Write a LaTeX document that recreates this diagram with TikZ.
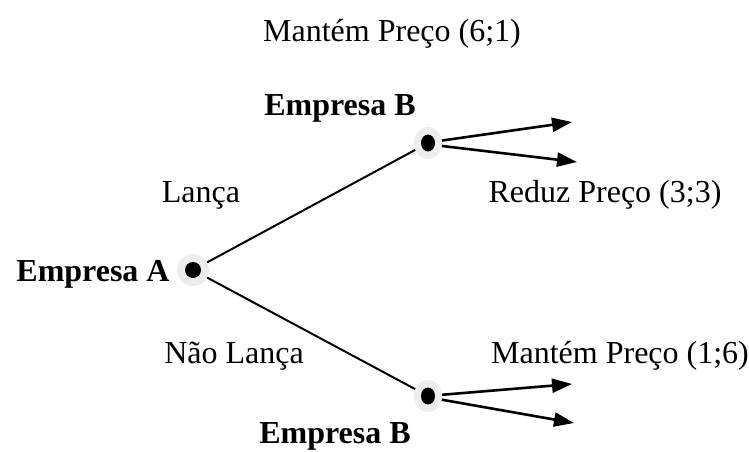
\documentclass[tikz,border=0pt]{standalone}
\usetikzlibrary{shapes.geometric,arrows.meta}
\usepackage{fontspec}
\setmainfont{Liberation Serif}
\begin{document}
\begin{tikzpicture}[x=1pt,y=-1pt,
  lbl/.style={font=\fontsize{32}{36}\selectfont, inner sep=0pt},
  player/.style={font=\fontsize{32}{36}\selectfont\bfseries, inner sep=0pt},
  halo/.style={fill=black!7, draw=none},
  dot/.style={fill=black, draw=none},
  edge/.style={line width=2pt},
  move/.style={line width=2.6pt, -{Triangle[length=20pt,width=14pt]}}]
\useasboundingbox (0,0) rectangle (749,452);
% decision nodes
\node[halo, circle, minimum size=32pt, inner sep=0pt] (A) at (193,270) {};
\fill[dot] (A.center) circle [radius=8];
\node[halo, ellipse, minimum width=28pt, minimum height=32pt, inner sep=0pt] (B1) at (428,143) {};
\fill[dot] (B1.center) ellipse [x radius=7, y radius=8.5];
\node[halo, ellipse, minimum width=28pt, minimum height=32pt, inner sep=0pt] (B2) at (428,396) {};
\fill[dot] (B2.center) ellipse [x radius=7, y radius=8.5];
% arrow end points
\coordinate (t1) at (572,122);
\coordinate (t2) at (577,162);
\coordinate (b1) at (572,384);
\coordinate (b2) at (574,423);
% branches
\draw[edge] (A) -- (B1);
\draw[edge] (A) -- (B2);
\draw[move] (B1.10) -- (t1);
\draw[move] (B1.-12) -- (t2);
\draw[move] (B2.5) -- (b1);
\draw[move] (B2.-15) -- (b2);
% labels
\node[lbl] (m1) at (392,34) {Mantém Preço (6;1)};
\node[player] (pb1) at (340,108) {Empresa B};
\node[lbl] (la) at (201,195) {Lança};
\node[lbl] (rp) at (605,195) {Reduz Preço (3;3)};
\node[player] (pa) at (93,274) {Empresa A};
\node[lbl] (nl) at (234,356) {Não Lança};
\node[lbl] (m2) at (620,356) {Mantém Preço (1;6)};
\node[player] (pb2) at (335,436) {Empresa B};
\end{tikzpicture}
\end{document}
